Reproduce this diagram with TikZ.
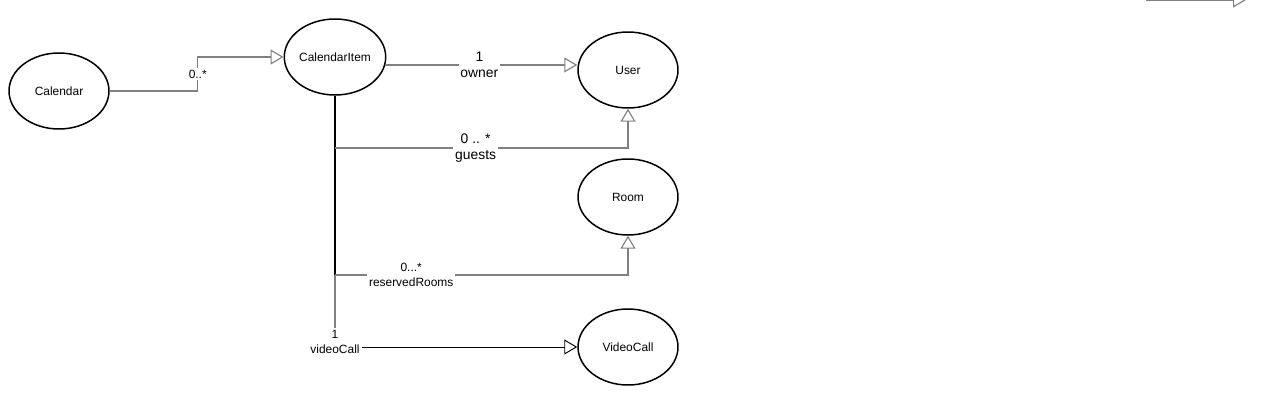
\documentclass[tikz,border=0pt]{standalone}
\usepackage{fontspec}
\setmainfont{Liberation Sans}
\usetikzlibrary{shapes.geometric,arrows.meta}
\definecolor{linegrey}{RGB}{128,128,128}
\tikzset{cls/.style={ellipse,draw,line width=0.85pt,minimum width=2cm,minimum height=1.52cm,inner sep=0pt,font=\fontsize{6.8}{8}\selectfont},
         assoc/.style={draw=linegrey,line width=0.65pt,-{Triangle[open,length=0.26cm,width=0.3cm]}},
         lbl/.style={fill=white,align=center,inner sep=1pt,font=\fontsize{6.8}{8.5}\selectfont},
         biglbl/.style={lbl,font=\fontsize{7.9}{9}\selectfont}}

\begin{document}
\begin{tikzpicture}[x=0.02cm,y=-0.02cm]
        \useasboundingbox (0,0) rectangle (1270,405);

        \node[cls] (cal) at (59,91) {Calendar};
        \node[cls] (ci) at (335,57) {CalendarItem};
        \node[cls] (user) at (628,70) {User};
        \node[cls] (room) at (628,197) {Room};
        \node[cls] (vc) at (628,347) {VideoCall};
        \node[lbl] (vcl) at (335,342) {1\\videoCall};

        \coordinate (g) at (335,148);
        \coordinate (r) at (335,275);
        \coordinate (s1) at (1146,0);
        \coordinate (s2) at (1246,0);

        \draw[assoc] (cal.east) -- ++(88,0) |- node[lbl,pos=0.25] {0..*} (ci.west);
        \draw[assoc] (ci.-9) -- node[biglbl,pos=0.49] {1\\owner} (ci.-9 -| user.west);
        \draw[line width=0.8pt] (ci.south) -- (r); % upper part of the stem is darker
        \draw[draw=linegrey,line width=0.65pt] (r) -- (vcl.north);
        \draw[assoc] (g) -| node[biglbl,pos=0.24] {0 .. *\\guests} (user.south);
        \draw[assoc] (r) -| node[lbl,pos=0.13] {0...*\\reservedRooms} (room.south);
        \draw[assoc,draw=black,line width=0.55pt] (vcl.east |- vc.west) -- (vc.west);
        \draw[assoc] (s1) -- (s2);

\end{tikzpicture}
\end{document}
